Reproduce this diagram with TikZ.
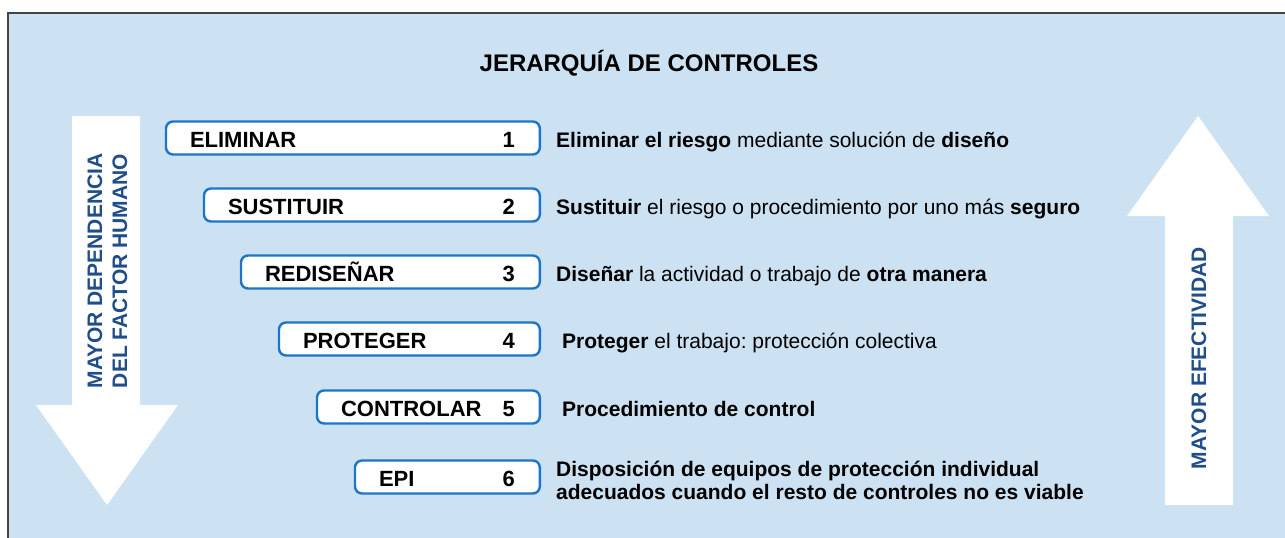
\documentclass[tikz,border=0pt]{standalone}
\usepackage{fontspec}
\setmainfont{Liberation Sans}
\usepackage{xcolor}
\usetikzlibrary{positioning,calc}
\frenchspacing
\definecolor{panelblue}{HTML}{CCE2F2}
\definecolor{boxblue}{HTML}{1B75C9}
\definecolor{arrowblue}{HTML}{1F4E8A}
\definecolor{framegray}{HTML}{444444}
\tikzset{
	panel/.style={fill=panelblue},%
	frameline/.style={framegray,line width=2pt},%
	bigarrow/.style={fill=white},%
	arrowtext/.style={arrowblue,font=\fontsize{21}{25}\selectfont\bfseries,inner sep=0pt},%
	titletext/.style={font=\fontsize{24}{28}\selectfont\bfseries,inner sep=0pt},%
	ctrlbox/.style={draw=boxblue,fill=white,line width=2.4pt,rounded corners=7pt,minimum height=33pt,inner sep=0pt},%
	ctrllabel/.style={font=\fontsize{22}{26}\selectfont\bfseries,inner sep=0pt,text height=19pt,text depth=0pt},%
	desctext/.style={font=\fontsize{21}{23}\selectfont,inner sep=0pt,text height=19pt,text depth=0pt},%
}
\def\boxright{541}

\begin{document}
\begin{tikzpicture}[x=1pt,y=-1pt]
		\useasboundingbox (0,0) rectangle (1285,538);
		\fill[panel] (8,13) rectangle (1285,538);
		\draw[frameline] (8,538) -- (8,13) -- (1285,13);
		\node[titletext] (title) at (649,63.5) {JERARQUÍA DE CONTROLES};
		% big arrows
		\fill[bigarrow] (72,116) -- (140,116) -- (140,405) -- (178,405) -- (107,505) -- (36,405) -- (72,405) -- cycle;
		\fill[bigarrow] (1198,116) -- (1269,216) -- (1233,216) -- (1233,505) -- (1165,505) -- (1165,216) -- (1127,216) -- cycle;
		\node[arrowtext,rotate=90,align=center] (dependencia) at (107.5,271) {MAYOR DEPENDENCIA\\DEL FACTOR HUMANO};
		\node[arrowtext,rotate=90] (efectividad) at (1199,358) {MAYOR EFECTIVIDAD};
		% control boxes
		\foreach \name/\xl/\yc/\lbl/\num in {eliminar/166/138/ELIMINAR/1,sustituir/204/205/SUSTITUIR/2,redisenar/241/272/REDISEÑAR/3,proteger/279/339/PROTEGER/4,controlar/317/407/CONTROLAR/5,epi/355/477/EPI/6}{
			\node[ctrlbox,minimum width=\boxright-\xl-1.2,anchor=east] (\name) at (\boxright,\yc) {};
			\node[ctrllabel,right=25pt of \name.west] (\name-lbl) {\lbl};
			\node[ctrllabel,left=26pt of \name.east] (\name-num) {\num};
		}
		\node[desctext,right=15pt of eliminar.east] (desc-eliminar) {\textbf{Eliminar el riesgo} mediante solución de \textbf{diseño}};
		\node[desctext,right=15pt of sustituir.east] (desc-sustituir) {\textbf{Sustituir} el riesgo o procedimiento por uno más \textbf{seguro}};
		\node[desctext,right=15pt of redisenar.east] (desc-redisenar) {\textbf{Diseñar} la actividad o trabajo de \textbf{otra manera}};
		\node[desctext,right=21pt of proteger.east] (desc-proteger) {\textbf{Proteger} el trabajo: protección colectiva};
		\node[desctext,right=21pt of controlar.east] (desc-controlar) {\textbf{Procedimiento de control}};
		\node[font=\fontsize{21}{23}\selectfont\bfseries,inner sep=0pt,align=left,anchor=west] (desc-epi) at ($(epi.east)+(15,3.6)$) {Disposición de equipos de protección individual\\adecuados cuando el resto de controles no es viable};
\end{tikzpicture}
\end{document}
